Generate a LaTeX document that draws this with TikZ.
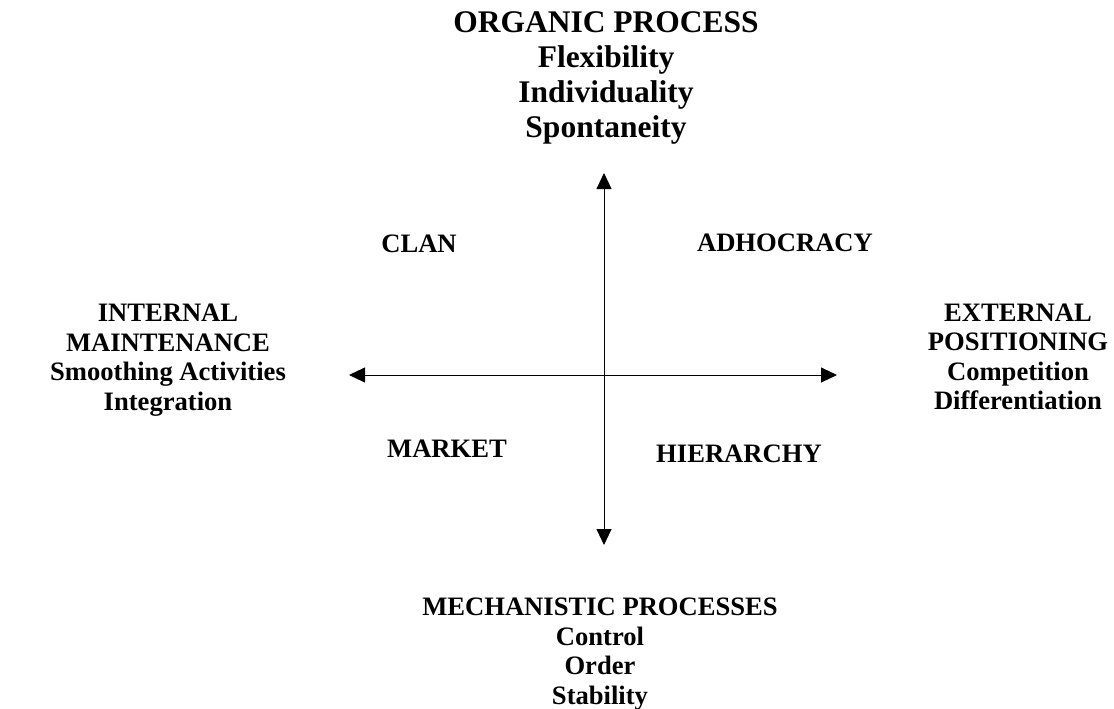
\documentclass[tikz,border=0pt]{standalone}
\usepackage{fontspec}
\setmainfont{Liberation Serif}
\usetikzlibrary{arrows.meta}

\tikzset{
  axis/.style={line width=0.9pt, draw=black, {Triangle[length=16pt,width=15pt]}-{Triangle[length=16pt,width=15pt]}},
  polelabel/.style={align=center, inner sep=0pt, font=\bfseries\fontsize{26.6}{29.5}\selectfont},
  toplabel/.style={align=center, inner sep=0pt, font=\bfseries\fontsize{31.5}{35}\selectfont},
  quadlabel/.style={anchor=base, inner sep=0pt, font=\bfseries\fontsize{26.6}{30}\selectfont},
}

\begin{document}
\begin{tikzpicture}[x=1pt, y=-1pt]
  \useasboundingbox (0,0) rectangle (1114,709);

  % axis end points
  \coordinate (ytop) at (604,173);
  \coordinate (ybot) at (604,545);
  \coordinate (xleft) at (349,375);
  \coordinate (xright) at (837,375);

  \draw[axis] (ybot) -- (ytop);
  \draw[axis] (xleft) -- (xright);

  % poles of the two dimensions
  \node[toplabel] (organic) at (606,78)
    {ORGANIC PROCESS\\Flexibility\\Individuality\\Spontaneity};
  \node[polelabel] (mech) at (600,654)
    {MECHANISTIC PROCESSES\\Control\\Order\\Stability};
  \node[polelabel] (internal) at (168,360)
    {INTERNAL\\MAINTENANCE\\Smoothing Activities\\Integration};
  \node[polelabel] (external) at (1018,357)
    {EXTERNAL\\POSITIONING\\Competition\\Differentiation};

  % the four culture types
  \node[quadlabel] (clan) at (419,252) {CLAN};
  \node[quadlabel] (adhocracy) at (785,251) {ADHOCRACY};
  \node[quadlabel] (market) at (447,457) {MARKET};
  \node[quadlabel] (hierarchy) at (739,462) {HIERARCHY};
\end{tikzpicture}
\end{document}
